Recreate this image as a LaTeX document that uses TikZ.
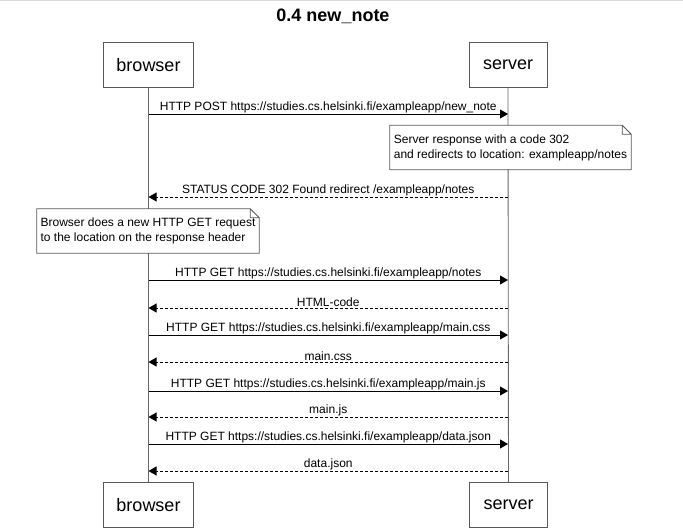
\documentclass[tikz,border=0pt]{standalone}
\usepackage{fontspec}
\setmainfont{Liberation Sans}
\usetikzlibrary{arrows.meta, positioning, calc}

\begin{document}
\begin{tikzpicture}
	[x=1pt, y=-1pt,
	 >={Triangle[length=8pt, width=9pt]},
	 actor/.style={draw=black!65, line width=0.35mm, minimum height=45pt, font=\fontsize{18}{22}\selectfont},
	 life/.style={draw=black!60, line width=0.3mm},
	 msg/.style={->, line width=0.3mm},
	 reply/.style={msg, dash pattern=on 3pt off 2pt},
	 lbl/.style={above, inner sep=0.5pt, font=\fontsize{12}{15}\selectfont},
	 note/.style={fill=white, align=left, minimum height=44pt, font=\fontsize{12}{15}\selectfont}]

	\useasboundingbox (0,0) rectangle (683,532);
	\draw[black!15] (0,0.5) -- (683,0.5);

	\node[font=\fontsize{18}{22}\selectfont\bfseries] (title) at (333,16) {0.4 new\_note};

	\node[actor, minimum width=90pt] (browser) at (148.5,65) {browser};
	\node[actor, minimum width=78pt] (server) at (508,65) {server};
	\node[actor, minimum width=90pt] (browserEnd) at (148.5,505) {browser};
	\node[actor, minimum width=78pt] (serverEnd) at (508.5,505) {server};

	\draw[life] (browser) -- (browserEnd);
	\draw[life] (server) -- (serverEnd);

	% points on the lifelines, one pair per message
	\foreach \n/\y in {1/114, 2/197, 3/280, 4/308, 5/335, 6/362, 7/391, 8/417, 9/444, 10/471}
		\path (browser |- 0,\y) coordinate (b\n) (server |- 0,\y) coordinate (s\n);

	\node[note, minimum width=241pt] (redirect) at (510.5,147.5)
		{Server response with a code 302\\and redirects to location: exampleapp/notes};
	\node[note, minimum width=222pt] (reload) at (148,231)
		{Browser does a new HTTP GET request\\to the location on the response header};
	\foreach \n in {redirect, reload}
		\draw[black!65, line width=0.3mm]
			(\n.south west) -- (\n.south east) -- ([yshift=-9pt]\n.north east)
			-- ([xshift=-9pt]\n.north east) -- (\n.north west) -- cycle
			([xshift=-9pt]\n.north east) |- ([yshift=-9pt]\n.north east);

	\draw[msg] (b1) -- node[lbl]{HTTP POST https://studies.cs.helsinki.fi/exampleapp/new\_note} (s1);
	\draw[reply] (s2) -- node[lbl]{STATUS CODE 302 Found redirect /exampleapp/notes} (b2);
	\draw[msg] (b3) -- node[lbl]{HTTP GET https://studies.cs.helsinki.fi/exampleapp/notes} (s3);
	\draw[reply] (s4) -- node[lbl]{HTML-code} (b4);
	\draw[msg] (b5) -- node[lbl]{HTTP GET https://studies.cs.helsinki.fi/exampleapp/main.css} (s5);
	\draw[reply] (s6) -- node[lbl]{main.css} (b6);
	\draw[msg] (b7) -- node[lbl]{HTTP GET https://studies.cs.helsinki.fi/exampleapp/main.js} (s7);
	\draw[reply] (s8) -- node[lbl]{main.js} (b8);
	\draw[msg] (b9) -- node[lbl]{HTTP GET https://studies.cs.helsinki.fi/exampleapp/data.json} (s9);
	\draw[reply] (s10) -- node[lbl]{data.json} (b10);
\end{tikzpicture}
\end{document}
